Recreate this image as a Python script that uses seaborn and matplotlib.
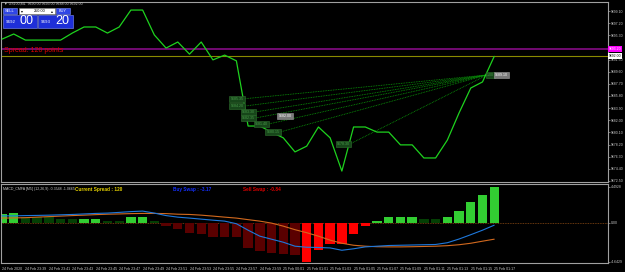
import numpy as np
import pandas as pd
import matplotlib
matplotlib.use("Agg")
import matplotlib.pyplot as plt
from matplotlib.patches import Rectangle
import seaborn as sns

# price closes, one per bar
closes = [9694.70, 9695.50, 9694.55, 9694.55, 9694.55, 9694.55, 9695.65, 9696.60, 9696.60,
          9695.65, 9696.60, 9699.25, 9699.25, 9695.35, 9693.30, 9694.25, 9692.35, 9694.25,
          9691.45, 9692.20, 9691.30, 9681.10, 9681.10, 9680.15, 9679.25, 9677.05, 9677.95,
          9680.95, 9679.25, 9674.05, 9680.95, 9680.95, 9680.15, 9680.15, 9678.15, 9678.15,
          9676.10, 9676.10, 9678.90, 9683.15, 9687.05, 9688.00, 9692.00]
price_ticks = [9699.10, 9697.20, 9695.30, 9693.40, 9691.50, 9689.60, 9687.70, 9685.80,
               9683.90, 9682.00, 9680.10, 9678.20, 9676.30, 9674.40, 9672.50]
bid, ask = 9692.00, 9693.20

# open trades (dotted lines to the current point)
trade_open_i = [20.6, 20.6, 21.6, 21.6, 22.7, 23.7, 29.7]
trade_open_p = [9685.35, 9684.20, 9683.30, 9682.35, 9681.40, 9680.15, 9678.30]
trade_close_i = 41.4
trade_close_p = 9689.10

# MACD subwindow
hist = [1.04, 1.16, 0.73, 0.66, 0.62, 0.43, 0.39, 0.46, 0.48, 0.27, 0.27, 0.66, 0.73, 0.27,
        -0.35, -0.70, -1.16, -1.24, -1.59, -1.59, -1.66, -2.90, -3.20, -3.48, -3.60, -3.67,
        -4.50, -3.17, -2.47, -2.40, -1.28, -0.35,
        0.27, 0.70, 0.73, 0.73, 0.50, 0.39, 0.66, 1.35, 2.40, 3.20, 4.14]
hist_strong = [1, 1, 0, 0, 0, 0, 0, 1, 1, 0, 0, 1, 1, 0,
               0, 0, 0, 0, 0, 0, 0, 0, 0, 0, 0, 0,
               1, 1, 1, 1, 1, 1,
               1, 1, 1, 1, 0, 0, 1, 1, 1, 1, 1]
macd_main = [0.81, 0.81, 0.84, 0.86, 0.89, 0.93, 0.97, 1.03, 1.09, 1.13, 1.21, 1.30, 1.36, 1.13,
             0.84, 0.66, 0.55, 0.43, 0.31, 0.20, -0.10, -0.85, -1.54, -1.89, -2.24, -2.70,
             -2.82, -2.85, -2.90, -3.17, -3.00, -2.78, -2.70, -2.62, -2.59, -2.56, -2.53, -2.50,
             -2.30, -1.87, -1.37, -0.85, -0.27]
macd_signal = [0.55, 0.57, 0.60, 0.66, 0.72, 0.78, 0.84, 0.89, 0.95, 1.00, 1.03, 1.07, 1.09, 1.09,
               1.07, 1.00, 0.97, 0.89, 0.78, 0.66, 0.55, 0.37, 0.20, -0.03, -0.38, -0.79,
               -1.14, -1.54, -2.00, -2.36, -2.59, -2.70, -2.76, -2.78, -2.78, -2.76, -2.73, -2.70,
               -2.64, -2.53, -2.36, -2.12, -1.89]
sub_top, sub_bottom = 4.4928, -4.6429

time_labels = ['24 Feb 2020', '24 Feb 23:39', '24 Feb 23:41', '24 Feb 23:43', '24 Feb 23:45',
               '24 Feb 23:47', '24 Feb 23:49', '24 Feb 23:51', '24 Feb 23:53', '24 Feb 23:55',
               '24 Feb 23:57', '24 Feb 23:59', '25 Feb 00:01', '25 Feb 01:01', '25 Feb 01:03',
               '25 Feb 01:05', '25 Feb 01:07', '25 Feb 01:09', '25 Feb 01:11', '25 Feb 01:13',
               '25 Feb 01:15', '25 Feb 01:17']

W, H = 625, 272
BG = "black"
AXC = "#a0a0a0"
TXT = "#c8c8c8"


def fig_rect(l, t, r, b):
    return [l / W, 1 - b / H, (r - l) / W, (b - t) / H]


def style_axes(a):
    a.set_facecolor(BG)
    for s in a.spines.values():
        s.set_color(AXC)
        s.set_linewidth(0.8)
    a.yaxis.tick_right()
    a.tick_params(axis="y", colors=AXC, labelcolor=TXT, labelsize=2.5, length=1.5, width=0.5, pad=0.8)
    a.set_xlabel("")
    a.set_ylabel("")


sns.set_style("dark")
plt.rcParams["font.family"] = ["Liberation Sans", "DejaVu Sans"]

fig = plt.figure(figsize=(W / 100, H / 100), dpi=100, facecolor=BG)
ax = fig.add_axes(fig_rect(1, 2, 608, 182))
ax2 = fig.add_axes(fig_rect(1, 184, 608, 263))

n = len(closes)
idx = np.arange(n)
xlim = (-0.085, 51.71)

# ---- main price window
sns.lineplot(x=idx, y=closes, color="#1ed21e", linewidth=0.9, ax=ax, zorder=3)

trades = pd.DataFrame({
    "trade": np.repeat(np.arange(len(trade_open_i)), 2),
    "i": np.ravel([[oi, trade_close_i] for oi in trade_open_i]),
    "price": np.ravel([[op, trade_close_p] for op in trade_open_p]),
})
sns.lineplot(data=trades, x="i", y="price", units="trade", estimator=None, sort=False,
             color="#0a9a0a", linewidth=0.6, linestyle=(0, (1, 1)), ax=ax, zorder=2)
for oi, op in zip(trade_open_i, trade_open_p):
    ax.text(oi, op, f"{op:.2f}", ha="right", va="center", fontsize=2.6, color="#4a9a4a", zorder=4,
            bbox=dict(boxstyle="square,pad=0.35", fc="#17461a", ec="#2f6f2f", lw=0.4))
ax.text(trade_open_i[5] - 0.1, trade_open_p[3] + 0.3, f"{trade_open_p[3] - 0.35:.2f}", ha="left",
        va="center", fontsize=2.6, color="white", zorder=5,
        bbox=dict(boxstyle="square,pad=0.35", fc="#7a7a7a", ec="#9a9a9a", lw=0.4))
ax.text(trade_close_i, trade_close_p, "1.00", ha="left", va="center", fontsize=2.6, color="#4a9a4a",
        zorder=4, bbox=dict(boxstyle="square,pad=0.35", fc="#17461a", ec="#2f6f2f", lw=0.4))
ax.text(trade_close_i + 0.65, trade_close_p, f"{trade_close_p:.2f}", ha="left", va="center",
        fontsize=2.6, color="white", zorder=5,
        bbox=dict(boxstyle="square,pad=0.35", fc="#7a7a7a", ec="#a0a0a0", lw=0.4))

ax.axhline(ask, color="#7a0a7a", linewidth=1.3, zorder=1)
ax.axhline(bid, color="#8a8a00", linewidth=0.8, zorder=1)
ax.text(0.15, bid + 0.35, "Spread: 120 points", color="#e00000", fontsize=5, ha="left", va="bottom")

ax.set_xlim(*xlim)
ax.set_ylim(9672.34, 9700.51)
ax.set_xticks([])
ax.set_yticks(price_ticks)
# the ask tag hides the label underneath it
ax.set_yticklabels(["" if abs(t - ask) < 0.5 else f"{t:.2f}" for t in price_ticks])
style_axes(ax)
ax.text(1.001, ask, f"{ask:.2f}", transform=ax.get_yaxis_transform(), fontsize=2.5, color="white",
        va="center", ha="left", zorder=6, clip_on=False,
        bbox=dict(boxstyle="square,pad=0.3", fc="#ff00ff", ec="#ff00ff", lw=0))
ax.text(1.001, bid, f"{bid:.2f}", transform=ax.get_yaxis_transform(), fontsize=2.5, color="black",
        va="center", ha="left", zorder=6, clip_on=False,
        bbox=dict(boxstyle="square,pad=0.3", fc="white", ec="white", lw=0))

# ---- MACD subwindow
kinds = [("g" if v >= 0 else "r") + str(s) for v, s in zip(hist, hist_strong)]
hist_df = pd.DataFrame({"i": idx, "v": hist, "kind": kinds})
pal = {"g1": "#32cd32", "g0": "#043f04", "r1": "#ff0000", "r0": "#5a0000"}
ax2.axhline(0, color="#8b4a13", linewidth=0.6, linestyle=(0, (1, 1)), zorder=1)
sns.barplot(data=hist_df, x="i", y="v", hue="kind", palette=pal, native_scale=True, width=0.8,
            dodge=False, legend=False, errorbar=None, saturation=1, linewidth=0, ax=ax2, zorder=2)
sns.lineplot(x=idx, y=macd_signal, color="#d2691e", linewidth=0.8, ax=ax2, zorder=3)
sns.lineplot(x=idx, y=macd_main, color="#1e78dc", linewidth=0.8, ax=ax2, zorder=3)

ax2.set_xlim(*xlim)
ax2.set_ylim(sub_bottom, sub_top)
style_axes(ax2)
ax2.set_yticks([sub_top - 0.3, 0, sub_bottom + 0.15])
ax2.set_yticklabels([f"{sub_top:.4f}", "0.00", f"{sub_bottom:.4f}"])
ax2.set_xticks(idx[::2][:len(time_labels)])
ax2.set_xticklabels(time_labels, ha="left")
ax2.tick_params(axis="x", colors=AXC, labelcolor=TXT, labelsize=2.6, length=2, width=0.5, pad=1)

ax2.text(0.003, 0.96, "MACD_CMFA [M5] (12,26,9) -0.3548 -1.0665", transform=ax2.transAxes,
         fontsize=2.6, color=TXT, va="top", ha="left")
ax2.text(0.122, 0.965, "Current Spread : 120", transform=ax2.transAxes, fontsize=3.4,
         color="#e8d400", weight="bold", va="top", ha="left")
ax2.text(0.284, 0.965, "Buy Swap : -3.17", transform=ax2.transAxes, fontsize=3.4,
         color="#1430ff", weight="bold", va="top", ha="left")
ax2.text(0.398, 0.965, "Sell Swap : -0.84", transform=ax2.transAxes, fontsize=3.4,
         color="#e00000", weight="bold", va="top", ha="left")

# ---- overlay: header and one-click trading panel (pixel coordinates)
ov = fig.add_axes([0, 0, 1, 1], zorder=10)
ov.set_xlim(0, W)
ov.set_ylim(H, 0)
ov.axis("off")
ov.patch.set_alpha(0)
ov.text(4, 3.2, "\u25bc US100,M1  9690.00 9693.00 9688.00 9692.00", fontsize=2.6, color=TXT,
        va="center", ha="left")
ov.add_patch(Rectangle((3, 8), 14, 6, fc="#3046e6", ec="#7f8fff", lw=0.4))
ov.text(10, 11, "SELL", fontsize=2.8, color="white", ha="center", va="center")
ov.add_patch(Rectangle((19, 8), 36, 6, fc="white", ec="#909090", lw=0.4))
ov.text(21, 11, "\u25be", fontsize=2.8, color="black", ha="left", va="center")
ov.text(46, 11, "250.00", fontsize=2.8, color="black", ha="right", va="center")
ov.text(53, 11, "\u25b4", fontsize=2.8, color="black", ha="right", va="center")
ov.add_patch(Rectangle((56, 8), 14, 6, fc="#3046e6", ec="#7f8fff", lw=0.4))
ov.text(63, 11, "BUY", fontsize=2.8, color="white", ha="center", va="center")
ov.add_patch(Rectangle((3, 15), 34, 13, fc="#1e2fd8", ec="#8090ff", lw=0.4))
ov.add_patch(Rectangle((38, 15), 35, 13, fc="#1e2fd8", ec="#8090ff", lw=0.4))
ov.text(11, 24, f"{int(bid)}", fontsize=3.2, color="white", ha="center", va="bottom")
ov.text(20, 27, f"{round((bid % 1) * 100):02d}", fontsize=9, color="white", ha="left", va="bottom")
ov.text(46, 24, f"{int(ask)}", fontsize=3.2, color="white", ha="center", va="bottom")
ov.text(55, 27, f"{round((ask % 1) * 100):02d}", fontsize=9, color="white", ha="left", va="bottom")

fig.savefig("out.png", dpi=100, facecolor=BG)
